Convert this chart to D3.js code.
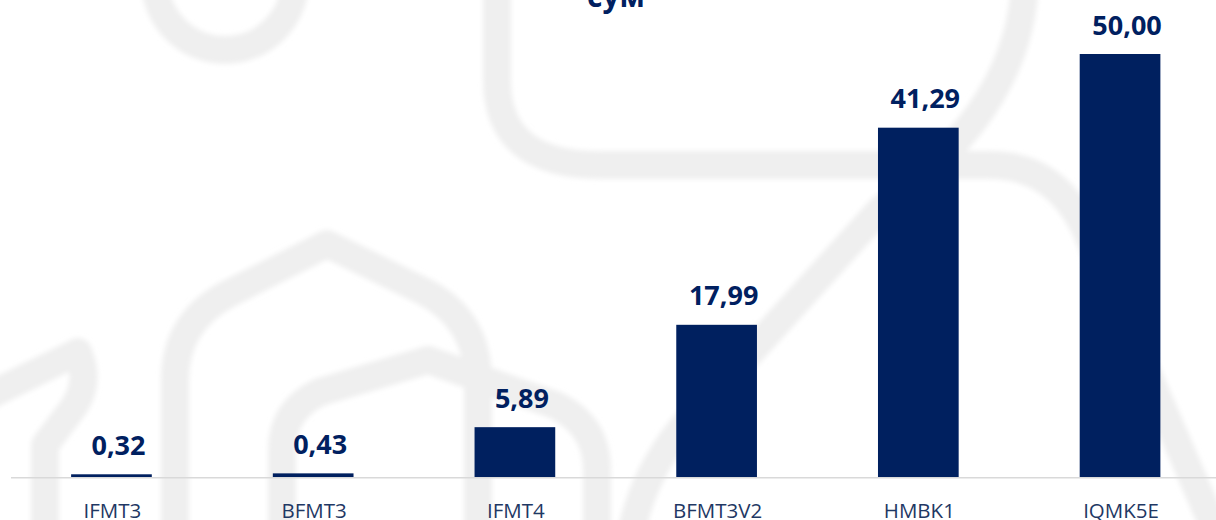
<!DOCTYPE html>
<html>
<head>
<meta charset="utf-8">
<script src="https://cdn.jsdelivr.net/npm/d3@7"></script>
<style>
  html, body {
    margin: 0;
    padding: 0;
    background: #fff;
  }

  svg {
    display: block;
    font-family: "Open Sans", sans-serif;
  }

  .bg path {
    fill: none;
    stroke: #efefef;
    stroke-width: 28px;
    stroke-linejoin: round;
    stroke-linecap: round;
  }

  .bar {
    fill: #00205f;
  }

  .value {
    fill: #002060;
    font-size: 27px;
    font-weight: 700;
    text-anchor: middle;
  }

  .cat {
    fill: #1f3864;
    font-size: 20.5px;
    text-anchor: middle;
  }

  .title {
    fill: #002060;
    font-size: 30px;
    font-weight: 700;
    text-anchor: middle;
  }

  .baseline {
    stroke: #d9d9d9;
    stroke-width: 1.5px;
  }
</style>
</head>
<body>
<svg id="chart"></svg>
<script>
  var categories = ["IFMT3", "BFMT3", "IFMT4", "BFMT3V2", "HMBK1", "IQMK5E"];
  var values = [0.32, 0.43, 5.89, 17.99, 41.29, 50.00];
  var valueLabels = ["0,32", "0,43", "5,89", "17,99", "41,29", "50,00"];
  var title = "сум";

  var width = 1216, height = 520;
  var margin = {top: 54, bottom: 43, left: 10.6, right: -4.9};

  var svg = d3.select("#chart")
    .attr("width", width)
    .attr("height", height);

  // faint watermark behind the chart
  var defs = svg.append("defs");
  defs.append("filter")
    .attr("id", "soft")
    .append("feGaussianBlur")
    .attr("stdDeviation", 2.5);

  var bgShapes = [
    "M 155 -20 A 70 70 0 0 0 295 -20",
    "M 497 -20 L 497 80 Q 497 165 600 165 L 990 165 Q 1060 165 1090 240 L 1215 530",
    "M 1025 -20 C 1022 80 960 150 880 210 L 680 430 Q 640 480 630 540",
    "M 175 540 L 175 380 Q 175 322 228 294 L 327 244 L 425 292 Q 478 320 478 380 L 478 540",
    "M 282 540 L 282 450 Q 282 410 320 392 L 428 360 L 555 405 Q 597 425 597 470 L 597 540",
    "M -10 395 L 78 352 Q 92 385 70 412 L 45 445 L 45 540"
  ];

  svg.append("g")
    .attr("class", "bg")
    .attr("filter", "url(#soft)")
    .selectAll("path")
    .data(bgShapes)
    .enter().append("path")
    .attr("d", function(d) { return d; });

  var x = d3.scaleBand()
    .domain(categories)
    .range([margin.left, width - margin.right])
    .paddingInner(0.6)
    .paddingOuter(0.3);

  var y = d3.scaleLinear()
    .domain([0, 50])
    .range([height - margin.bottom, margin.top]);

  var data = categories.map(function(c, i) {
    return {cat: c, value: values[i], label: valueLabels[i]};
  });

  svg.append("line")
    .attr("class", "baseline")
    .attr("x1", 11)
    .attr("x2", width)
    .attr("y1", y(0) + 0.75)
    .attr("y2", y(0) + 0.75);

  svg.selectAll("rect.bar")
    .data(data)
    .enter().append("rect")
    .attr("class", "bar")
    .attr("x", function(d) { return x(d.cat); })
    .attr("width", x.bandwidth())
    .attr("y", function(d) { return y(d.value); })
    .attr("height", function(d) { return y(0) - y(d.value); });

  svg.selectAll("text.value")
    .data(data)
    .enter().append("text")
    .attr("class", "value")
    .attr("x", function(d) { return x(d.cat) + x.bandwidth() / 2 + 7; })
    .attr("y", function(d) { return y(d.value) - 19.5; })
    .text(function(d) { return d.label; });

  svg.selectAll("text.cat")
    .data(data)
    .enter().append("text")
    .attr("class", "cat")
    .attr("x", function(d) { return x(d.cat) + x.bandwidth() / 2 + 1; })
    .attr("y", 518)
    .text(function(d) { return d.cat; });

  svg.append("text")
    .attr("class", "title")
    .attr("x", 616)
    .attr("y", 7)
    .text(title);
</script>
</body>
</html>
